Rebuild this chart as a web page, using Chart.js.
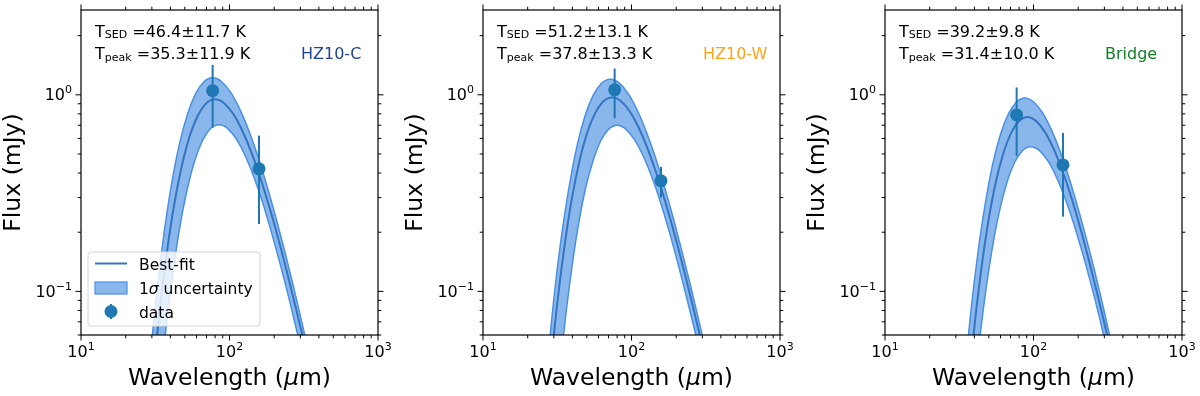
<!DOCTYPE html>
<html lang="en">
<head>
    <meta charset="UTF-8">
    <title>HZ10 dust SED fits</title>
    <script src="https://cdn.jsdelivr.net/npm/chart.js"></script>
    <style>
        body {
            margin: 0;
            background: #fff;
        }
        #wrap {
            position: relative;
            width: 1200px;
            height: 396px;
        }
        #wrap canvas {
            position: absolute;
            top: 0;
        }
    </style>
</head>
<body>
    <div id="wrap">
        <canvas id="c1" width="400" height="396" style="left:0px"></canvas>
        <canvas id="c2" width="400" height="396" style="left:400px"></canvas>
        <canvas id="c3" width="400" height="396" style="left:800px"></canvas>
    </div>

    <script>
        // ---- values (wavelength in um, flux in mJy) ----
        const dataWl = [77, 158];

        // HZ10-C
        const p1Flux = [1.05, 0.42];
        const p1Err = [0.37, 0.20];
        const wl1Best = [24, 27.2, 30.4, 33.6, 37.6, 42.4, 48, 54.4, 61.6, 69.6, 74.4, 80, 85.6, 92, 105.6, 121.6, 140, 160, 184, 212, 244, 280, 320, 368, 424];
        const f1Best = [0.0036, 0.0135, 0.036, 0.076, 0.152, 0.276, 0.443, 0.628, 0.792, 0.905, 0.937, 0.95, 0.939, 0.907, 0.803, 0.660, 0.513, 0.385, 0.274, 0.188, 0.125, 0.082, 0.054, 0.034, 0.021];
        const wl1Up = [23.1, 26.2, 29.3, 32.3, 36.2, 40.8, 46.2, 52.4, 59.3, 67.0, 71.6, 77, 82.4, 88.6, 101.6, 117.0, 134.8, 154, 177.1, 204.1, 234.9, 269.5, 308, 354.2, 408.1];
        const f1Up = [0.0046, 0.0174, 0.0462, 0.0976, 0.196, 0.354, 0.569, 0.806, 1.017, 1.162, 1.203, 1.22, 1.206, 1.165, 1.031, 0.848, 0.658, 0.495, 0.352, 0.241, 0.161, 0.106, 0.069, 0.043, 0.027];
        const wl1Lo = [26.4, 29.9, 33.3, 36.6, 40.9, 45.9, 51.8, 58.5, 66.0, 74.3, 79.2, 85, 90.8, 97.3, 111.3, 127.6, 146.3, 166.5, 190.6, 218.7, 250.8, 286.6, 326.2, 373.5, 428.6];
        const f1Lo = [0.0027, 0.0101, 0.0267, 0.0564, 0.113, 0.205, 0.329, 0.466, 0.588, 0.672, 0.695, 0.705, 0.697, 0.673, 0.596, 0.490, 0.380, 0.286, 0.203, 0.139, 0.093, 0.061, 0.040, 0.025, 0.0154];

        // HZ10-W
        const p2Flux = [1.06, 0.365];
        const p2Err = [0.30, 0.065];
        const wl2Best = [22.2, 25.2, 28.1, 31.1, 34.8, 39.2, 44.4, 50.3, 57.0, 64.4, 68.8, 74, 79.2, 85.1, 97.7, 112.5, 129.5, 148, 170.2, 196.1, 225.7, 259, 296, 340.4, 392.2];
        const f2Best = [0.0037, 0.0138, 0.0368, 0.0776, 0.155, 0.282, 0.453, 0.641, 0.809, 0.924, 0.957, 0.97, 0.959, 0.926, 0.820, 0.674, 0.523, 0.393, 0.280, 0.192, 0.128, 0.084, 0.055, 0.0345, 0.0212];
        const wl2Up = [21.6, 24.5, 27.4, 30.2, 33.8, 38.2, 43.2, 49.0, 55.4, 62.6, 67.0, 72, 77.0, 82.8, 95.0, 109.4, 126, 144, 165.6, 190.8, 219.6, 252, 288, 331.2, 381.6];
        const f2Up = [0.0045, 0.0171, 0.0455, 0.096, 0.192, 0.348, 0.560, 0.793, 1.000, 1.143, 1.184, 1.2, 1.186, 1.146, 1.014, 0.834, 0.647, 0.487, 0.346, 0.237, 0.158, 0.104, 0.068, 0.043, 0.026];
        const wl2Lo = [24.9, 28.1, 31.3, 34.5, 38.5, 43.2, 48.7, 55.1, 62.1, 69.9, 74.6, 80, 85.4, 91.6, 104.7, 120.1, 137.7, 156.7, 179.4, 205.8, 236, 269.8, 307, 351.6, 403.3];
        const f2Lo = [0.0027, 0.010, 0.0265, 0.056, 0.112, 0.203, 0.327, 0.462, 0.584, 0.667, 0.690, 0.70, 0.692, 0.669, 0.592, 0.487, 0.378, 0.284, 0.202, 0.138, 0.092, 0.061, 0.040, 0.025, 0.0153];

        // Bridge
        const p3Flux = [0.79, 0.44];
        const p3Err = [0.30, 0.20];
        const wl3Best = [28.6, 32.3, 35.9, 39.6, 44.1, 49.5, 55.7, 62.9, 70.8, 79.6, 84.9, 91, 97.1, 104.1, 118.8, 136.0, 155.7, 177.0, 202.4, 231.9, 265.5, 302.9, 344.4, 393.8, 451.2];
        const f3Best = [0.0029, 0.011, 0.0292, 0.0616, 0.123, 0.224, 0.359, 0.509, 0.642, 0.734, 0.759, 0.77, 0.761, 0.735, 0.651, 0.535, 0.415, 0.312, 0.222, 0.152, 0.101, 0.067, 0.0435, 0.0274, 0.0169];
        const wl3Up = [27.2, 30.7, 34.2, 37.7, 42.1, 47.3, 53.3, 60.2, 67.9, 76.5, 81.6, 87.5, 93.4, 100.2, 114.6, 131.3, 150.6, 171.4, 196.2, 225.1, 258.1, 295.0, 335.7, 384.5, 441.2];
        const f3Up = [0.0036, 0.0137, 0.0365, 0.077, 0.154, 0.279, 0.449, 0.636, 0.802, 0.917, 0.949, 0.962, 0.951, 0.919, 0.813, 0.669, 0.519, 0.390, 0.277, 0.190, 0.127, 0.083, 0.054, 0.034, 0.021];
        const wl3Lo = [30.2, 34.1, 37.9, 41.7, 46.5, 52.2, 58.8, 66.3, 74.7, 84.0, 89.5, 96, 102.4, 109.8, 125.3, 143.5, 164.3, 186.7, 213.6, 244.7, 280.1, 319.6, 363.3, 415.4, 476.0];
        const f3Lo = [0.0021, 0.0078, 0.0206, 0.0435, 0.0872, 0.158, 0.254, 0.359, 0.454, 0.518, 0.537, 0.544, 0.538, 0.520, 0.460, 0.378, 0.293, 0.221, 0.157, 0.108, 0.072, 0.047, 0.031, 0.019, 0.012];

        const regionNames = ['HZ10-C', 'HZ10-W', 'Bridge'];
        const regionColors = ['#24449c', '#ffa31a', '#11802a'];
        const tSed = ['46.4±11.7', '51.2±13.1', '39.2±9.8'];
        const tPeak = ['35.3±11.9', '37.8±13.3', '31.4±10.0'];

        // axis ranges and labelled ticks
        const xMin = 10, xMax = 1000;
        const yMin = 0.06, yMax = 2.7;
        const xTickVals = [10, 100, 1000];
        const xTickExp = ['1', '2', '3'];
        const yTickVals = [0.1, 1];
        const yTickExp = ['\u22121', '0'];

        // ---- styling ----
        const FONT = "'DejaVu Sans', sans-serif";
        const C0 = '#1f77b4';
        const LINE = 'rgb(52,116,192)';
        const EDGE = 'rgb(74,144,226)';
        const FILL = 'rgba(74,144,226,0.65)';

        function pts(xs, ys) {
            return xs.map((v, i) => ({ x: v, y: ys[i] }));
        }

        // draws a run of text pieces: [text, size, dy, italic]
        function rich(ctx, x, y, parts, align) {
            const fontOf = p => (p[3] ? 'italic ' : '') + p[1] + 'px ' + FONT;
            let w = 0;
            parts.forEach(p => { ctx.font = fontOf(p); w += ctx.measureText(p[0]).width; });
            let cx = align === 'right' ? x - w : (align === 'center' ? x - w / 2 : x);
            ctx.textAlign = 'left';
            ctx.textBaseline = 'alphabetic';
            parts.forEach(p => {
                ctx.font = fontOf(p);
                ctx.fillText(p[0], cx, y + (p[2] || 0));
                cx += ctx.measureText(p[0]).width;
            });
        }

        // error bars + legend, drawn over the curves
        const overlay = {
            id: 'overlay',
            afterDatasetsDraw(chart, args, opts) {
                const { ctx, chartArea: a, scales: { x, y } } = chart;
                ctx.save();
                ctx.strokeStyle = C0;
                ctx.lineWidth = 2;
                dataWl.forEach((wl, i) => {
                    const px = x.getPixelForValue(wl);
                    ctx.beginPath();
                    ctx.moveTo(px, y.getPixelForValue(opts.flux[i] + opts.err[i]));
                    ctx.lineTo(px, y.getPixelForValue(opts.flux[i] - opts.err[i]));
                    ctx.stroke();
                });

                if (opts.legend) {
                    const lx = a.left + 7, ly = a.top + 242;
                    ctx.beginPath();
                    ctx.roundRect(lx, ly, 172, 74, 3);
                    ctx.fillStyle = 'rgba(255,255,255,0.8)';
                    ctx.fill();
                    ctx.strokeStyle = '#d4d4d4';
                    ctx.lineWidth = 1;
                    ctx.stroke();

                    // Best-fit handle
                    ctx.strokeStyle = LINE;
                    ctx.lineWidth = 2;
                    ctx.beginPath();
                    ctx.moveTo(a.left + 14, a.top + 253.5);
                    ctx.lineTo(a.left + 46, a.top + 253.5);
                    ctx.stroke();
                    // 1 sigma patch
                    ctx.fillStyle = FILL;
                    ctx.fillRect(a.left + 14, a.top + 272, 32, 12);
                    ctx.strokeStyle = EDGE;
                    ctx.lineWidth = 1.2;
                    ctx.strokeRect(a.left + 14, a.top + 272, 32, 12);
                    // data marker
                    ctx.fillStyle = C0;
                    ctx.beginPath();
                    ctx.arc(a.left + 30, a.top + 301.5, 6.5, 0, Math.PI * 2);
                    ctx.fill();
                    ctx.strokeStyle = C0;
                    ctx.lineWidth = 2;
                    ctx.beginPath();
                    ctx.moveTo(a.left + 30, a.top + 294);
                    ctx.lineTo(a.left + 30, a.top + 309);
                    ctx.stroke();

                    ctx.fillStyle = '#000';
                    const tx = a.left + 58;
                    rich(ctx, tx, a.top + 260, [['Best-fit', 15.5]], 'left');
                    rich(ctx, tx, a.top + 284, [['1', 15.5], ['\u03c3', 15.5, 0, true], [' uncertainty', 15.5]], 'left');
                    rich(ctx, tx, a.top + 308, [['data', 15.5]], 'left');
                }
                ctx.restore();
            }
        };

        // frame, outward ticks, tick labels, titles and annotations
        const frame = {
            id: 'frame',
            afterDraw(chart, args, opts) {
                const { ctx, chartArea: a, scales: { x, y } } = chart;
                ctx.save();
                ctx.strokeStyle = '#000';
                ctx.lineWidth = 1.2;
                ctx.strokeRect(a.left, a.top, a.right - a.left, a.bottom - a.top);

                ctx.lineWidth = 1;
                ctx.beginPath();
                for (let e = -2; e <= 3; e++) {
                    for (let m = 1; m <= 9; m++) {
                        const v = m * Math.pow(10, e);
                        const len = m === 1 ? 5.5 : 3.3;
                        if (e >= 1 && v >= xMin && v <= xMax) {
                            const px = x.getPixelForValue(v);
                            ctx.moveTo(px, a.bottom); ctx.lineTo(px, a.bottom + len);
                            ctx.moveTo(px, a.top); ctx.lineTo(px, a.top - len);
                        }
                        if (v >= yMin && v <= yMax) {
                            const py = y.getPixelForValue(v);
                            ctx.moveTo(a.left, py); ctx.lineTo(a.left - len, py);
                            ctx.moveTo(a.right, py); ctx.lineTo(a.right + len, py);
                        }
                    }
                }
                ctx.stroke();

                ctx.fillStyle = '#000';
                xTickVals.forEach((v, i) => {
                    rich(ctx, x.getPixelForValue(v), a.bottom + 22, [['10', 16], [xTickExp[i], 11, -7]], 'center');
                });
                yTickVals.forEach((v, i) => {
                    rich(ctx, a.left - 9, y.getPixelForValue(v) + 5.5, [['10', 16], [yTickExp[i], 11, -7]], 'right');
                });

                // axis titles
                rich(ctx, (a.left + a.right) / 2, a.bottom + 50,
                    [['Wavelength (', 23.5], ['\u03bc', 23.5, 0, true], ['m)', 23.5]], 'center');
                ctx.save();
                ctx.translate(a.left - 67, (a.top + a.bottom) / 2);
                ctx.rotate(-Math.PI / 2);
                ctx.font = '23.5px ' + FONT;
                ctx.textAlign = 'center';
                ctx.textBaseline = 'middle';
                ctx.fillText('Flux (mJy)', 0, 0);
                ctx.restore();

                // temperature annotations and region name
                const k = opts.panel;
                rich(ctx, a.left + 14, a.top + 26.7, [['T', 16], ['SED', 11, 1.5], [' =' + tSed[k] + ' K', 16]], 'left');
                rich(ctx, a.left + 14, a.top + 49.3, [['T', 16], ['peak', 11, 1.5], [' =' + tPeak[k] + ' K', 16]], 'left');
                ctx.fillStyle = regionColors[k];
                rich(ctx, a.left + 220, a.top + 49.3, [[regionNames[k], 16]], 'left');
                ctx.restore();
            }
        };

        function makePanel(id, panel, pad, curves, flux, err) {
            const lineBase = { showLine: true, pointRadius: 0, pointHoverRadius: 0, cubicInterpolationMode: 'monotone', clip: 0 };
            return new Chart(document.getElementById(id), {
                type: 'scatter',
                data: {
                    datasets: [
                        {
                            label: 'data',
                            data: pts(dataWl, flux),
                            pointRadius: 6.5,
                            pointHoverRadius: 6.5,
                            backgroundColor: C0,
                            borderWidth: 0,
                            order: 0
                        },
                        Object.assign({
                            label: 'Best-fit',
                            data: pts(curves[0], curves[1]),
                            borderColor: LINE,
                            borderWidth: 2,
                            fill: false,
                            order: 1
                        }, lineBase),
                        Object.assign({
                            label: '1 sigma upper',
                            data: pts(curves[2], curves[3]),
                            borderColor: EDGE,
                            borderWidth: 1.5,
                            backgroundColor: FILL,
                            fill: '+1',
                            order: 3
                        }, lineBase),
                        Object.assign({
                            label: '1 sigma lower',
                            data: pts(curves[4], curves[5]),
                            borderColor: EDGE,
                            borderWidth: 1.5,
                            fill: false,
                            order: 2
                        }, lineBase)
                    ]
                },
                options: {
                    responsive: false,
                    animation: false,
                    devicePixelRatio: 1,
                    events: [],
                    layout: { padding: pad },
                    scales: {
                        x: { type: 'logarithmic', min: xMin, max: xMax, display: false },
                        y: { type: 'logarithmic', min: yMin, max: yMax, display: false }
                    },
                    plugins: {
                        legend: { display: false },
                        tooltip: { enabled: false },
                        overlay: { flux: flux, err: err, legend: panel === 0 },
                        frame: { panel: panel }
                    }
                },
                plugins: [overlay, frame]
            });
        }

        makePanel('c1', 0, { left: 81, right: 22, top: 10, bottom: 61 },
            [wl1Best, f1Best, wl1Up, f1Up, wl1Lo, f1Lo], p1Flux, p1Err);
        makePanel('c2', 1, { left: 83, right: 20, top: 10, bottom: 61 },
            [wl2Best, f2Best, wl2Up, f2Up, wl2Lo, f2Lo], p2Flux, p2Err);
        makePanel('c3', 2, { left: 85, right: 18, top: 10, bottom: 61 },
            [wl3Best, f3Best, wl3Up, f3Up, wl3Lo, f3Lo], p3Flux, p3Err);
    </script>
</body>
</html>
